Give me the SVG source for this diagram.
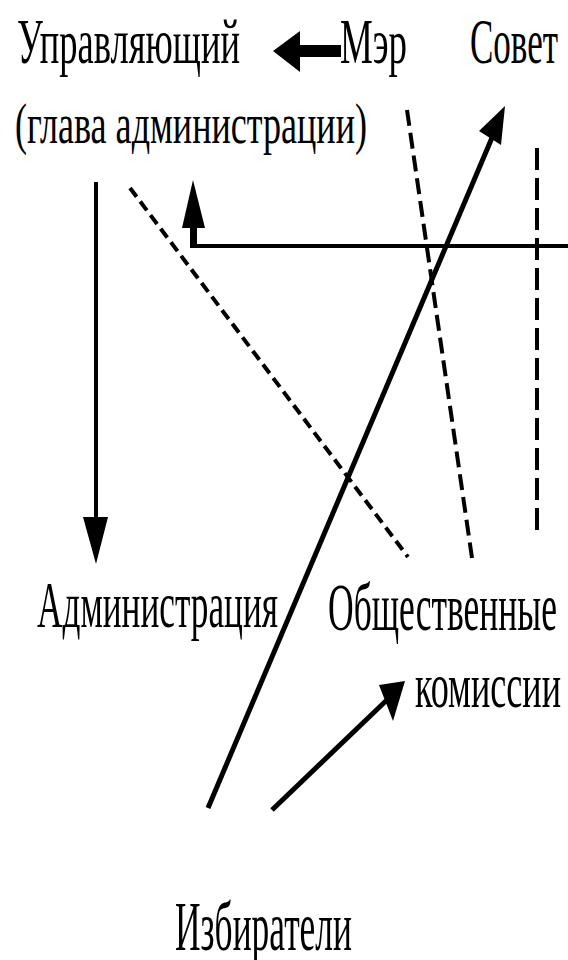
<svg xmlns="http://www.w3.org/2000/svg" width="568" height="960" viewBox="0 0 568 960">
<style>
.t{font-family:"Liberation Serif","DejaVu Serif",serif;fill:#000}
.s{stroke:#000;fill:none}
.d{stroke:#000;fill:none;stroke-width:4}
.h{fill:#000}
</style>
<rect width="568" height="960" fill="#fff"/>
<g id="connectors">
<rect class="h" x="297" y="45" width="44" height="12"/>
<polygon class="h" points="273,51 300,31 300,72"/>
<line class="s" x1="96" y1="182" x2="96" y2="525" stroke-width="4"/>
<polygon class="h" points="83,517 108,517 96,564"/>
<line class="s" x1="190" y1="246" x2="568" y2="246" stroke-width="4"/>
<rect class="h" x="190" y="224" width="7" height="24"/>
<polygon class="h" points="193,180 182,228 205,228"/>
<line class="d" x1="130" y1="188" x2="408" y2="557" stroke-width="5" stroke-dasharray="11 6"/>
<line class="d" x1="407" y1="110" x2="472" y2="558" stroke-dasharray="16 7"/>
<line class="d" x1="537" y1="148" x2="537" y2="537" stroke-dasharray="22 8"/>
<line class="s" x1="208" y1="808" x2="494" y2="133" stroke-width="5"/>
<polygon class="h" points="505,106 479,131 501,145"/>
<line class="s" x1="272" y1="810" x2="390" y2="697" stroke-width="5"/>
<polygon class="h" points="405,681 379,685 393,721"/>
</g>
<g id="upravlyayushchiy">
<text class="t" x="17" y="63" font-size="64" textLength="223" lengthAdjust="spacingAndGlyphs">Управляющий</text>
<text class="t" x="15" y="143" font-size="58" textLength="352" lengthAdjust="spacingAndGlyphs">(глава администрации)</text>
</g>
<g id="mer"><text class="t" x="340" y="63" font-size="64" textLength="67" lengthAdjust="spacingAndGlyphs">Мэр</text></g>
<g id="sovet"><text class="t" x="470" y="63" font-size="64" textLength="88" lengthAdjust="spacingAndGlyphs">Совет</text></g>
<g id="administratsiya"><text class="t" x="37" y="627" font-size="66" textLength="241" lengthAdjust="spacingAndGlyphs">Администрация</text></g>
<g id="komissii">
<text class="t" x="328" y="630" font-size="68" textLength="229" lengthAdjust="spacingAndGlyphs">Общественные</text>
<text class="t" x="415" y="707" font-size="64" textLength="146" lengthAdjust="spacingAndGlyphs">комиссии</text>
</g>
<g id="izbirateli"><text class="t" x="175" y="950" font-size="70" textLength="177" lengthAdjust="spacingAndGlyphs">Избиратели</text></g>
</svg>
